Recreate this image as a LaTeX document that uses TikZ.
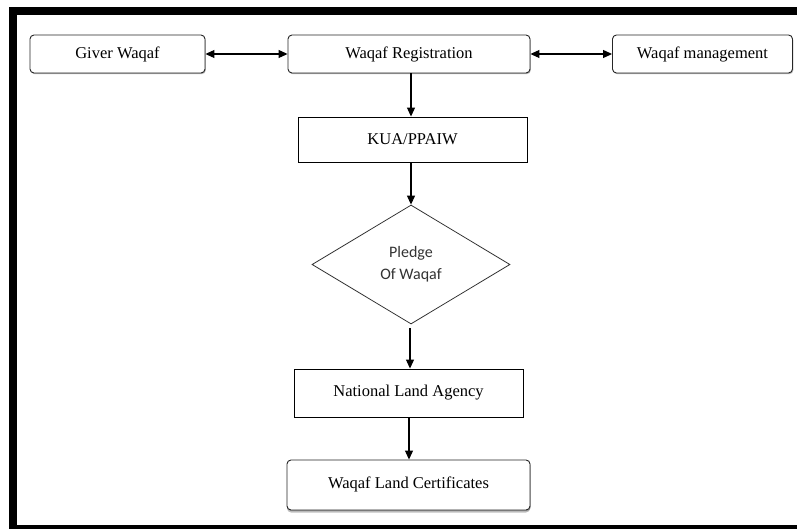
\documentclass[tikz,border=0pt]{standalone}
\usepackage{fontspec}
\setmainfont{Liberation Serif}
\newfontfamily\calfont{Carlito}
\usetikzlibrary{arrows.meta,shapes.geometric,shadows}
\tikzset{
  rbox/.style={draw=black!85, line width=0.9pt, rounded corners=4pt, fill=white,
    inner sep=0pt, font=\fontsize{16.5}{18}\selectfont,
    drop shadow={shadow xshift=0.8pt, shadow yshift=-1.2pt, fill=black!35, opacity=0.8}},
  sbox/.style={draw=black, line width=0.9pt, fill=white, inner sep=0pt,
    font=\fontsize{16.5}{18}\selectfont},
  dbox/.style={draw=black!80, line width=0.8pt, diamond, inner sep=0pt, fill=white,
    font=\calfont\fontsize{16}{22}\selectfont, align=center, text=black!80},
  conn/.style={line width=1.1pt, -{Triangle[length=9pt,width=8pt]}},
  dconn/.style={line width=1.1pt, {Triangle[length=9pt,width=8pt]}-{Triangle[length=9pt,width=8pt]}},
}
\begin{document}
\begin{tikzpicture}[x=1pt,y=-1pt]
\useasboundingbox (0,0) rectangle (797,529);
% frame
\fill (9,7) rectangle (797,15);
\fill (9,7) rectangle (17,529);
\fill (9,525) rectangle (797,529);
% nodes
\node[rbox, minimum width=175pt, minimum height=38pt] (giver) at (117.5,54) {Giver Waqaf};
\node[rbox, minimum width=242pt, minimum height=38pt] (reg) at (409,54) {Waqaf Registration};
\node[rbox, minimum width=180pt, minimum height=38pt] (mgmt) at (702.5,54) {Waqaf management};
\node[sbox, minimum width=229pt, minimum height=45pt] (kua) at (412.5,139.5) {KUA/PPAIW};
\node[dbox, minimum width=198pt, minimum height=119pt] (pledge) at (411,264.5) {Pledge\\Of Waqaf};
\node[sbox, minimum width=229pt, minimum height=48pt] (nla) at (408.5,393) {National Land Agency};
\node[rbox, minimum width=243pt, minimum height=50pt,
  drop shadow={shadow xshift=0pt, shadow yshift=-2.5pt, fill=black!50}] (cert) at (408.5,485) {\raisebox{5pt}{Waqaf Land Certificates}};
% connectors
\draw[dconn] (giver.east) -- (reg.west);
\draw[dconn] (reg.east) -- (mgmt.west);
\draw[conn] (reg.south -| 411,0) -- (kua.north -| 411,0);
\draw[conn] (kua.south -| 411,0) -- (pledge.north);
\draw[conn, shorten <=4pt] (pledge.south -| 410,0) -- (nla.north -| 410,0);
\draw[conn] (nla.south -| 409,0) -- (cert.north -| 409,0);
\end{tikzpicture}
\end{document}
